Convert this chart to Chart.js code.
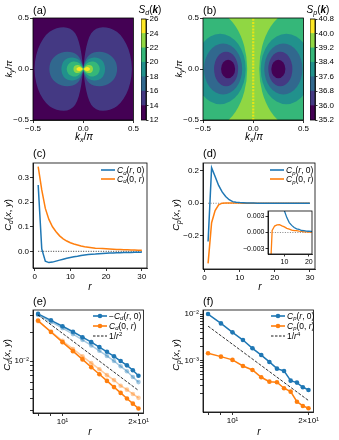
<!DOCTYPE html>
<html>
<head>
<meta charset="utf-8">
<script src="https://cdn.jsdelivr.net/npm/chart.js@4.4.1/dist/chart.umd.min.js"></script>
<style>
body { margin: 0; width: 339px; height: 440px; background: #fff; position: relative; overflow: hidden; font-family: "Liberation Sans", Arial, sans-serif; color: #000; }
canvas { position: absolute; }
.p { position: absolute; font-size: 11px; transform: translateY(-50%); white-space: nowrap; line-height: 1; }
.m { position: absolute; font-size: 10px; transform: translate(-50%, -50%); white-space: nowrap; line-height: 1; }
.rot { font-size: 9.5px; transform: translate(-50%, -50%) rotate(-90deg); }
sub, sup { font-size: 70%; line-height: 0; position: relative; vertical-align: baseline; }
sub { top: 0.3em; }
sup { top: -0.45em; }
.ley { position: absolute; display: flex; align-items: center; height: 10px; font-size: 8.5px; white-space: nowrap; }
.ley svg { margin-right: 2px; }
</style>
</head>
<body>
<canvas id="heatA" width="140" height="145" style="left:0;top:0"></canvas>
<canvas id="cbarA" width="30" height="145" style="left:141px;top:0"></canvas>
<canvas id="heatB" width="140" height="145" style="left:170px;top:0"></canvas>
<canvas id="cbarB" width="29" height="145" style="left:310px;top:0"></canvas>
<canvas id="graficoC" width="150" height="150" style="left:0;top:145px"></canvas>
<canvas id="graficoD" width="150" height="150" style="left:170px;top:145px"></canvas>
<canvas id="insetD" width="80" height="60" style="left:235px;top:205px"></canvas>
<canvas id="graficoE" width="150" height="145" style="left:0;top:295px"></canvas>
<canvas id="graficoF" width="150" height="145" style="left:170px;top:295px"></canvas>

<div class="p" style="left:33px;top:10px">(a)</div>
<div class="p" style="left:203px;top:10px">(b)</div>
<div class="p" style="left:33px;top:153px">(c)</div>
<div class="p" style="left:203px;top:153px">(d)</div>
<div class="p" style="left:33px;top:301px">(e)</div>
<div class="p" style="left:203px;top:301px">(f)</div>

<div class="m" style="left:150px;top:10px"><i>S</i><sub><i>d</i></sub>(<b><i>k</i></b>)</div>
<div class="m" style="left:318px;top:10px"><i>S</i><sub><i>p</i></sub>(<b><i>k</i></b>)</div>
<div class="m" style="left:84px;top:137px"><i>k</i><sub><i>x</i></sub>/<i>π</i></div>
<div class="m" style="left:254px;top:137px"><i>k</i><sub><i>x</i></sub>/<i>π</i></div>
<div class="m rot" style="left:9px;top:69px"><i>k</i><sub><i>y</i></sub>/<i>π</i></div>
<div class="m rot" style="left:179px;top:69px"><i>k</i><sub><i>y</i></sub>/<i>π</i></div>
<div class="m rot" style="left:8px;top:215px"><i>C</i><sub><i>d</i></sub>(<i>x</i>, <i>y</i>)</div>
<div class="m rot" style="left:176px;top:215px"><i>C</i><sub><i>p</i></sub>(<i>x</i>, <i>y</i>)</div>
<div class="m rot" style="left:7px;top:355px"><i>C</i><sub><i>d</i></sub>(<i>x</i>, <i>y</i>)</div>
<div class="m rot" style="left:176px;top:355px"><i>C</i><sub><i>p</i></sub>(<i>x</i>, <i>y</i>)</div>
<div class="m" style="left:90px;top:287px"><i>r</i></div>
<div class="m" style="left:260px;top:287px"><i>r</i></div>
<div class="m" style="left:90px;top:432px"><i>r</i></div>
<div class="m" style="left:259px;top:432px"><i>r</i></div>

<script>
/* Datos */
const rLin = [1, 2, 3, 4, 5, 6, 7, 8, 9, 10, 11, 12, 13, 14, 15, 16, 17, 18, 19, 20, 21, 22, 23, 24, 25, 26, 27, 28, 29, 30];
const cdR0 = [0.27, 0.01, -0.04, -0.046, -0.044, -0.04, -0.036, -0.032, -0.028, -0.025, -0.022, -0.02, -0.017, -0.015, -0.013, -0.012, -0.011, -0.0095, -0.0085, -0.0078, -0.0072, -0.0066, -0.006, -0.0056, -0.0052, -0.0049, -0.0046, -0.0043, -0.0041, -0.0039];
const cd0R = [0.345, 0.25, 0.175, 0.13, 0.1, 0.08, 0.063, 0.051, 0.042, 0.035, 0.03, 0.026, 0.022, 0.019, 0.017, 0.015, 0.013, 0.012, 0.011, 0.01, 0.009, 0.0083, 0.0076, 0.007, 0.0064, 0.0059, 0.0055, 0.0051, 0.0048, 0.0045];
const cpR0 = [-0.236, 0.219, 0.165, 0.11, 0.07, 0.042, 0.022, 0.01, 0.0063, 0.00405, 0.00277, 0.00184, 0.00132, 0.00094, 0.000675, 0.000603, 0.000373, 0.000339, 0.000269, 0.000236, 0.0002, 0.00018, 0.00016, 0.00014, 0.00012, 0.00011, 0.0001, 0.00009, 0.00008, 0.00007];
const cp0R = [-0.37, -0.12, -0.045, -0.01, 0.0004, 0.0012, 0.0014, 0.00144, 0.00122, 0.00104, 0.00077, 0.000633, 0.000441, 0.000355, 0.000345, 0.000257, 0.000217, 0.000132, 0.000107, 0.0000957, 0.00009, 0.00008, 0.00007, 0.00006, 0.00005, 0.00005, 0.00004, 0.00004, 0.00003, 0.00003];
const ceroR = [1, 30];

const rLog = [8, 9, 10, 11, 12, 13, 14, 15, 16, 17, 18, 19, 20];
const menosCdR0 = [0.0313, 0.0268, 0.0232, 0.0203, 0.0178, 0.0158, 0.014, 0.0125, 0.0112, 0.01, 0.009, 0.008, 0.007];
const menosCdR0Claro = [0.0305, 0.0258, 0.0222, 0.0192, 0.0167, 0.0146, 0.0128, 0.0113, 0.01, 0.0088, 0.0078, 0.0068, 0.006];
const cd0RLog = [0.0266, 0.0202, 0.0158, 0.0127, 0.0104, 0.0086, 0.00725, 0.00618, 0.00532, 0.00462, 0.00404, 0.00356, 0.00317];
const cd0RLogClaro = [0.0262, 0.0204, 0.0163, 0.0134, 0.0112, 0.0095, 0.0082, 0.0071, 0.0063, 0.0055, 0.005, 0.0045, 0.0041];
const cpR0Log = [0.01, 0.0063, 0.00405, 0.00277, 0.00184, 0.00132, 0.00094, 0.000675, 0.000603, 0.000373, 0.000339, 0.000269, 0.000236];
const cp0RLog = [0.00144, 0.00122, 0.00104, 0.00077, 0.000633, 0.000441, 0.000355, 0.000345, 0.000257, 0.000217, 0.000132, 0.000107, 0.0000957];
const guiaR = [8, 20];
const guiaE = [0.0305, 0.0049];
const guiaF = [0.0055, 0.00014];

const nivelesA = [12, 14, 16, 18, 20, 22, 24, 26];
const nivelesB = [35.2, 36.0, 36.8, 37.6, 38.4, 39.2, 40.0, 40.8];
const viridis7 = ["#440154", "#443983", "#31688e", "#21918c", "#35b779", "#90d743", "#fde725"];

// contornos de S_d: borde superior del lóbulo derecho de cada nivel (14, 16, ..., 24)
const lobuloKx = [
	[0, 0.01, 0.03, 0.06, 0.1, 0.16, 0.23, 0.3, 0.37, 0.43, 0.47, 0.49],
	[0, 0.01, 0.04, 0.08, 0.13, 0.19, 0.25, 0.3, 0.33, 0.34],
	[0, 0.01, 0.04, 0.08, 0.13, 0.18, 0.21, 0.22],
	[0, 0.01, 0.04, 0.08, 0.12, 0.15, 0.17],
	[0, 0.015, 0.04, 0.07, 0.09, 0.1],
	[0.005, 0.02, 0.04, 0.06, 0.07],
];
const lobuloKy = [
	[0, 0.1, 0.22, 0.32, 0.38, 0.41, 0.41, 0.39, 0.34, 0.25, 0.14, 0],
	[0, 0.06, 0.12, 0.155, 0.17, 0.17, 0.15, 0.11, 0.06, 0],
	[0, 0.045, 0.09, 0.11, 0.115, 0.095, 0.055, 0],
	[0, 0.03, 0.06, 0.075, 0.07, 0.05, 0],
	[0, 0.02, 0.038, 0.04, 0.028, 0],
	[0, 0.015, 0.02, 0.015, 0],
];
// contornos de S_p: elipses del lóbulo derecho (niveles 38.4, 37.6, 36.8, 36.0, 35.2)
const elipseCx = [0.45, 0.33, 0.3, 0.27, 0.25];
const elipseRx = [0.39, 0.255, 0.19, 0.12, 0.07];
const elipseRy = [0.588, 0.345, 0.25, 0.17, 0.09];
const elipseColor = [4, 3, 2, 1, 0];
const franjaKy = [-0.5, 0.5];

const marcasK = [-0.5, 0, 0.5];
const marcasLogX = [8, 9, 10, 20];
const etiquetasLogX = ["10\u00B9", "2\u00D710\u00B9"];
const valoresLogX = [10, 20];
const marcasLogE = [0.003, 0.004, 0.005, 0.006, 0.007, 0.008, 0.009, 0.01, 0.02, 0.03];
const marcasLogF = [0.0002, 0.0003, 0.0004, 0.0005, 0.0006, 0.0007, 0.0008, 0.0009, 0.001, 0.002, 0.003, 0.004, 0.005, 0.006, 0.007, 0.008, 0.009, 0.01];
const valoresLogY = [0.0001, 0.001, 0.01];
const etiquetasLogY = ["10\u207B\u2074", "10\u207B\u00B3", "10\u207B\u00B2"];

const azul = "#1f77b4";
const naranja = "#ff7f0e";

Chart.defaults.font.family = '"Liberation Sans", Arial, sans-serif';
Chart.defaults.font.size = 8;
Chart.defaults.color = "#000";
Chart.defaults.animation = false;
Chart.defaults.plugins.legend.display = false;
Chart.defaults.plugins.tooltip.enabled = false;

function menos(v, d) {
	return (v < -1e-12 ? "\u2212" : "") + Math.abs(v).toFixed(d);
}
function etiquetaLog(valores, textos) {
	return (v) => {
		const i = valores.findIndex((u) => Math.abs(u - v) / u < 1e-6);
		return i >= 0 ? textos[i] : "";
	};
}
function pares(xs, ys) {
	return xs.map((x, i) => ({ x: x, y: ys[i] }));
}

function eje(tipo, min, max, marcas, etiqueta, tam, largo = 3) {
	return {
		type: tipo,
		min: min,
		max: max,
		afterBuildTicks: (s) => {
			s.ticks = marcas.map((v) => ({ value: v }));
		},
		afterFit: (s) => {
			if (s.isHorizontal()) s.height = tam;
			else s.width = tam;
		},
		ticks: { autoSkip: false, maxRotation: 0, padding: 1, callback: (v) => etiqueta(v) },
		grid: { drawOnChartArea: false, tickLength: largo, color: "#000", lineWidth: 0.8 },
		border: { color: "#000", width: 0.8 },
	};
}

// Marco de los cuatro lados
const marco = {
	id: "marco",
	afterDatasetsDraw(chart) {
		const { ctx, chartArea: a } = chart;
		ctx.save();
		ctx.strokeStyle = "#000";
		ctx.lineWidth = 0.8;
		ctx.strokeRect(a.left, a.top, a.right - a.left, a.bottom - a.top);
		ctx.restore();
	},
};
const fondoBlanco = {
	id: "fondoBlanco",
	beforeDraw(chart) {
		const { ctx, chartArea: a } = chart;
		ctx.save();
		ctx.fillStyle = "#fff";
		ctx.fillRect(a.left, a.top, a.right - a.left, a.bottom - a.top);
		ctx.restore();
	},
};

function curva(ctx, p) {
	ctx.beginPath();
	ctx.moveTo(p[0][0], p[0][1]);
	for (let j = 1; j < p.length - 1; j++) {
		ctx.quadraticCurveTo(p[j][0], p[j][1], (p[j][0] + p[j + 1][0]) / 2, (p[j][1] + p[j + 1][1]) / 2);
	}
	ctx.lineTo(p[p.length - 1][0], p[p.length - 1][1]);
	ctx.closePath();
}

const contornoA = {
	id: "contornoA",
	beforeDatasetsDraw(chart) {
		const { ctx, chartArea: a, scales: { x, y } } = chart;
		ctx.save();
		ctx.beginPath();
		ctx.rect(a.left, a.top, a.right - a.left, a.bottom - a.top);
		ctx.clip();
		ctx.fillStyle = viridis7[0];
		ctx.fillRect(a.left, a.top, a.right - a.left, a.bottom - a.top);
		lobuloKx.forEach((kx, i) => {
			const ky = lobuloKy[i];
			ctx.fillStyle = viridis7[i + 1];
			[1, -1].forEach((lado) => {
				const pts = kx.map((v, j) => [x.getPixelForValue(lado * v), y.getPixelForValue(ky[j])]);
				for (let j = kx.length - 2; j >= 0; j--) pts.push([x.getPixelForValue(lado * kx[j]), y.getPixelForValue(-ky[j])]);
				curva(ctx, pts);
				ctx.fill();
			});
		});
		ctx.restore();
	},
};

const contornoB = {
	id: "contornoB",
	beforeDatasetsDraw(chart) {
		const { ctx, chartArea: a, scales: { x, y } } = chart;
		ctx.save();
		ctx.beginPath();
		ctx.rect(a.left, a.top, a.right - a.left, a.bottom - a.top);
		ctx.clip();
		ctx.fillStyle = viridis7[5];
		ctx.fillRect(a.left, a.top, a.right - a.left, a.bottom - a.top);
		elipseCx.forEach((cx, i) => {
			ctx.fillStyle = viridis7[elipseColor[i]];
			[1, -1].forEach((lado) => {
				const px = x.getPixelForValue(lado * cx);
				const rx = Math.abs(x.getPixelForValue(cx + elipseRx[i]) - x.getPixelForValue(cx));
				const ry = Math.abs(y.getPixelForValue(elipseRy[i]) - y.getPixelForValue(0));
				ctx.beginPath();
				ctx.ellipse(px, y.getPixelForValue(0), rx, ry, 0, 0, 2 * Math.PI);
				ctx.fill();
			});
		});
		ctx.restore();
	},
};

/* Mapas de color (a) y (b) */
function mapa(id, datasets, plugin, derecha) {
	new Chart(document.getElementById(id), {
		type: "scatter",
		data: { datasets: datasets },
		options: {
			responsive: false,
			layout: { padding: { top: 18, right: derecha, left: 0, bottom: 0 } },
			scales: {
				x: eje("linear", -0.5, 0.5, marcasK, (v) => menos(v, 1), 25),
				y: eje("linear", -0.5, 0.5, marcasK, (v) => menos(v, 1), 33),
			},
		},
		plugins: [plugin, marco],
	});
}
mapa("heatA", [], contornoA, 4);
mapa(
	"heatB",
	[
		{
			data: pares([0, 0], franjaKy),
			showLine: true,
			borderColor: "#e4e419",
			borderWidth: 2.2,
			borderDash: [2, 1.2],
			pointRadius: 0,
		},
	],
	contornoB,
	5
);

function barraColor(id, niveles, fmt, ancho) {
	const y = eje("linear", niveles[0], niveles[niveles.length - 1], niveles, fmt, ancho, 2.5);
	y.position = "right";
	new Chart(document.getElementById(id), {
		type: "bar",
		data: {
			labels: [""],
			datasets: niveles.slice(0, -1).map((v, i) => ({
				data: [[v, niveles[i + 1]]],
				backgroundColor: viridis7[i],
				grouped: false,
				barPercentage: 1,
				categoryPercentage: 1,
				borderWidth: 0,
			})),
		},
		options: {
			responsive: false,
			layout: { padding: { top: 19, bottom: 25, left: 0, right: 0 } },
			scales: { x: { display: false }, y: y },
		},
		plugins: [marco],
	});
}
barraColor("cbarA", nivelesA, (v) => String(Math.round(v)), 25);
barraColor("cbarB", nivelesB, (v) => v.toFixed(1), 24);

/* Correlaciones en escala lineal (c), (d) */
function linea(xs, ys, color, ancho = 1.5) {
	return { data: pares(xs, ys), showLine: true, borderColor: color, backgroundColor: color, borderWidth: ancho, pointRadius: 0 };
}
function lineaCero(color) {
	return { data: pares(ceroR, [0, 0]), showLine: true, borderColor: color, borderWidth: 0.8, borderDash: [1, 1.5], pointRadius: 0 };
}

new Chart(document.getElementById("graficoC"), {
	type: "scatter",
	data: { datasets: [linea(rLin, cdR0, azul), linea(rLin, cd0R, naranja), lineaCero("#000")] },
	options: {
		responsive: false,
		layout: { padding: { top: 18, right: 3, left: 0, bottom: 0 } },
		scales: {
			x: eje("linear", -0.45, 31.45, [0, 10, 20, 30], (v) => String(v), 27),
			y: eje("linear", -0.068, 0.36, [0, 0.1, 0.2, 0.3], (v) => menos(v, 1), 33),
		},
	},
	plugins: [marco],
});

new Chart(document.getElementById("graficoD"), {
	type: "scatter",
	data: { datasets: [linea(rLin, cpR0, azul), linea(rLin, cp0R, naranja), lineaCero("#666")] },
	options: {
		responsive: false,
		layout: { padding: { top: 18, right: 5, left: 0, bottom: 0 } },
		scales: {
			x: eje("linear", -0.45, 31.45, [0, 10, 20, 30], (v) => String(v), 26),
			y: eje("linear", -0.405, 0.248, [-0.2, 0, 0.2], (v) => menos(v, 1), 33),
		},
	},
	plugins: [marco],
});

const ejeInsetX = eje("linear", 3.3, 21.3, [10, 20], (v) => String(v), 11, 2.5);
const ejeInsetY = eje("linear", -0.004, 0.004, [-0.003, 0, 0.003], (v) => menos(v, 3), 33, 2.5);
ejeInsetX.ticks.font = { size: 7 };
ejeInsetY.ticks.font = { size: 7 };
new Chart(document.getElementById("insetD"), {
	type: "scatter",
	data: { datasets: [linea(rLin, cpR0, azul, 1.3), linea(rLin, cp0R, naranja, 1.3), lineaCero("#666")] },
	options: {
		responsive: false,
		layout: { padding: { top: 6, right: 3, left: 0, bottom: 0 } },
		scales: { x: ejeInsetX, y: ejeInsetY },
	},
	plugins: [fondoBlanco, marco],
});

/* Correlaciones en escala log-log (e), (f) */
function serieLog(ys, color) {
	return {
		data: pares(rLog, ys),
		showLine: true,
		borderColor: color,
		backgroundColor: color,
		borderWidth: 1.5,
		pointRadius: 2.3,
		pointBorderWidth: 0,
	};
}
function guia(ys) {
	return { data: pares(guiaR, ys), showLine: true, borderColor: "#000", borderWidth: 0.8, borderDash: [3, 1.5], pointRadius: 0 };
}

new Chart(document.getElementById("graficoE"), {
	type: "scatter",
	data: {
		datasets: [
			guia(guiaE),
			serieLog(menosCdR0, azul),
			serieLog(cd0RLog, naranja),
			serieLog(menosCdR0Claro, "rgba(31,119,180,0.4)"),
			serieLog(cd0RLogClaro, "rgba(255,127,14,0.4)"),
		],
	},
	options: {
		responsive: false,
		layout: { padding: { top: 15, right: 4, left: 0, bottom: 0 } },
		scales: {
			x: eje("logarithmic", 7.64, 20.94, marcasLogX, etiquetaLog(valoresLogX, etiquetasLogX), 27),
			y: eje("logarithmic", 0.00284, 0.0344, marcasLogE, etiquetaLog(valoresLogY, etiquetasLogY), 33),
		},
	},
	plugins: [marco],
});

new Chart(document.getElementById("graficoF"), {
	type: "scatter",
	data: { datasets: [guia(guiaF), serieLog(cpR0Log, azul), serieLog(cp0RLog, naranja)] },
	options: {
		responsive: false,
		layout: { padding: { top: 15, right: 4, left: 0, bottom: 0 } },
		scales: {
			x: eje("logarithmic", 7.64, 20.94, marcasLogX, etiquetaLog(valoresLogX, etiquetasLogX), 28),
			y: eje("logarithmic", 0.0000794, 0.0122, marcasLogF, etiquetaLog(valoresLogY, etiquetasLogY), 33),
		},
	},
	plugins: [marco],
});

/* Leyendas con subíndices */
function leyenda(x, y, items) {
	items.forEach((it, i) => {
		const d = document.createElement("div");
		d.className = "ley";
		d.style.left = x + "px";
		d.style.top = y + i * it.paso - 5 + "px";
		const dash = it.dash ? ' stroke-dasharray="2.5 1.5" stroke-width="0.9"' : ' stroke-width="1.6"';
		const punto = it.punto ? `<circle cx="7" cy="3" r="2.3" fill="${it.color}"/>` : "";
		d.innerHTML = `<svg width="14" height="6"><line x1="0" y1="3" x2="14" y2="3" stroke="${it.color}"${dash}/>${punto}</svg><span>${it.texto}</span>`;
		document.body.appendChild(d);
	});
}
const Cd = "<i>C</i><sub><i>d</i></sub>";
const Cp = "<i>C</i><sub><i>p</i></sub>";
leyenda(101, 170, [
	{ color: azul, texto: Cd + "(<i>r</i>, 0)", paso: 8.5 },
	{ color: naranja, texto: Cd + "(0, <i>r</i>)", paso: 8.5 },
]);
leyenda(270, 170, [
	{ color: azul, texto: Cp + "(<i>r</i>, 0)", paso: 9 },
	{ color: naranja, texto: Cp + "(0, <i>r</i>)", paso: 9 },
]);
leyenda(93, 315.5, [
	{ color: azul, punto: true, texto: "\u2212" + Cd + "(<i>r</i>, 0)", paso: 10 },
	{ color: naranja, punto: true, texto: Cd + "(0, <i>r</i>)", paso: 10 },
	{ color: "#000", dash: true, texto: "1/<i>r</i><sup>2</sup>", paso: 10 },
]);
leyenda(271, 315.5, [
	{ color: azul, punto: true, texto: Cp + "(<i>r</i>, 0)", paso: 10 },
	{ color: naranja, punto: true, texto: Cp + "(0, <i>r</i>)", paso: 10 },
	{ color: "#000", dash: true, texto: "1/<i>r</i><sup>4</sup>", paso: 10 },
]);
</script>
</body>
</html>
